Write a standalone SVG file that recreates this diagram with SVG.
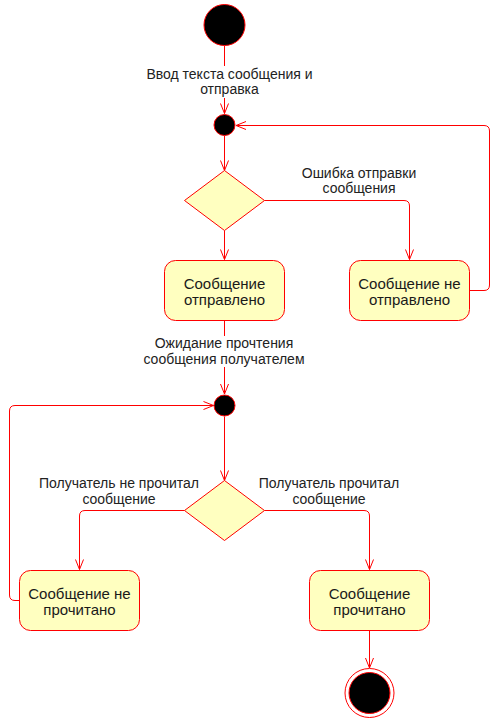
<svg xmlns="http://www.w3.org/2000/svg" width="500" height="719" viewBox="0 0 500 719">
<style>
.e{fill:none;stroke:#ff0000;stroke-width:1}
.act{fill:#ffffc0;stroke:#ff0000;stroke-width:1}
.dot{fill:#000000;stroke:#ff0000;stroke-width:1}
.nt{font-family:"Liberation Sans",Arial,sans-serif;font-size:15px;fill:#1a1a1a;text-anchor:middle}
.lt{font-family:"Liberation Sans",Arial,sans-serif;font-size:14px;fill:#222222;text-anchor:middle}
.bg{fill:#ffffff}
</style>
<defs>
<marker id="arr" viewBox="0 0 12 10" refX="11" refY="5" markerWidth="12" markerHeight="10" markerUnits="userSpaceOnUse" orient="auto">
<path d="M1,1 L11,5 L1,9" fill="none" stroke="#ff0000" stroke-width="1"/>
</marker>
</defs>
<g id="connectors">
<path class="e" d="M224.5,46 L224.5,113.5" marker-end="url(#arr)"/>
<path class="e" d="M224.5,136 L224.5,170.5" marker-end="url(#arr)"/>
<path class="e" d="M264.5,200.5 L404,200.5 Q409.5,200.5 409.5,206 L409.5,259.5" marker-end="url(#arr)"/>
<path class="e" d="M224.5,230.5 L224.5,259.5" marker-end="url(#arr)"/>
<path class="e" d="M469.5,290.5 L484,290.5 Q489.5,290.5 489.5,285 L489.5,131 Q489.5,125.5 484,125.5 L236,125.5" marker-end="url(#arr)"/>
<path class="e" d="M224.5,320.5 L224.5,394" marker-end="url(#arr)"/>
<path class="e" d="M19.5,600.5 L15,600.5 Q9.5,600.5 9.5,595 L9.5,411 Q9.5,405.5 15,405.5 L213.5,405.5" marker-end="url(#arr)"/>
<path class="e" d="M224.5,416.5 L224.5,480.5" marker-end="url(#arr)"/>
<path class="e" d="M184.5,510.5 L85,510.5 Q79.5,510.5 79.5,516 L79.5,569.5" marker-end="url(#arr)"/>
<path class="e" d="M264.5,510.5 L364,510.5 Q369.5,510.5 369.5,516 L369.5,569.5" marker-end="url(#arr)"/>
<path class="e" d="M369.5,630.5 L369.5,668" marker-end="url(#arr)"/>
</g>
<g id="edge-labels">
<rect class="bg" x="144" y="66" width="172" height="32"/>
<text class="lt" x="229.5" y="79">Ввод текста сообщения и</text>
<text class="lt" x="229.5" y="94">отправка</text>
<rect class="bg" x="298" y="166" width="122" height="30"/>
<text class="lt" x="359" y="178">Ошибка отправки</text>
<text class="lt" x="359" y="193">сообщения</text>
<rect class="bg" x="140" y="336" width="168" height="31"/>
<text class="lt" x="224" y="348">Ожидание прочтения</text>
<text class="lt" x="224" y="364">сообщения получателем</text>
<rect class="bg" x="35" y="476" width="168" height="31"/>
<text class="lt" x="119" y="488">Получатель не прочитал</text>
<text class="lt" x="119" y="504">сообщение</text>
<rect class="bg" x="255" y="476" width="148" height="31"/>
<text class="lt" x="329" y="488">Получатель прочитал</text>
<text class="lt" x="329" y="504">сообщение</text>
</g>
<g id="start">
<circle class="dot" cx="224.5" cy="25" r="20.5"/>
</g>
<g id="merge1">
<circle class="dot" cx="224.5" cy="125" r="10.5"/>
</g>
<g id="decision1">
<polygon class="act" points="224.5,170.5 264.5,200.5 224.5,230.5 184.5,200.5"/>
</g>
<g id="sent">
<rect class="act" x="164.5" y="260.5" width="120" height="60" rx="11" ry="11"/>
<text class="nt" x="224.5" y="288.5">Сообщение</text>
<text class="nt" x="224.5" y="304.5">отправлено</text>
</g>
<g id="not-sent">
<rect class="act" x="349.5" y="260.5" width="120" height="60" rx="11" ry="11"/>
<text class="nt" x="409.5" y="288.5">Сообщение не</text>
<text class="nt" x="409.5" y="304.5">отправлено</text>
</g>
<g id="merge2">
<circle class="dot" cx="224.5" cy="405.5" r="10.5"/>
</g>
<g id="decision2">
<polygon class="act" points="224.5,480.5 264.5,510.5 224.5,540.5 184.5,510.5"/>
</g>
<g id="not-read">
<rect class="act" x="19.5" y="570.5" width="120" height="60" rx="11" ry="11"/>
<text class="nt" x="79.5" y="598.5">Сообщение не</text>
<text class="nt" x="79.5" y="614.5">прочитано</text>
</g>
<g id="read">
<rect class="act" x="309.5" y="570.5" width="120" height="60" rx="11" ry="11"/>
<text class="nt" x="369.5" y="598.5">Сообщение</text>
<text class="nt" x="369.5" y="614.5">прочитано</text>
</g>
<g id="end">
<circle cx="369.5" cy="693" r="24.5" fill="#ffffff" stroke="#ff0000" stroke-width="1"/>
<circle class="dot" cx="369.5" cy="693" r="20.5"/>
</g>
</svg>
